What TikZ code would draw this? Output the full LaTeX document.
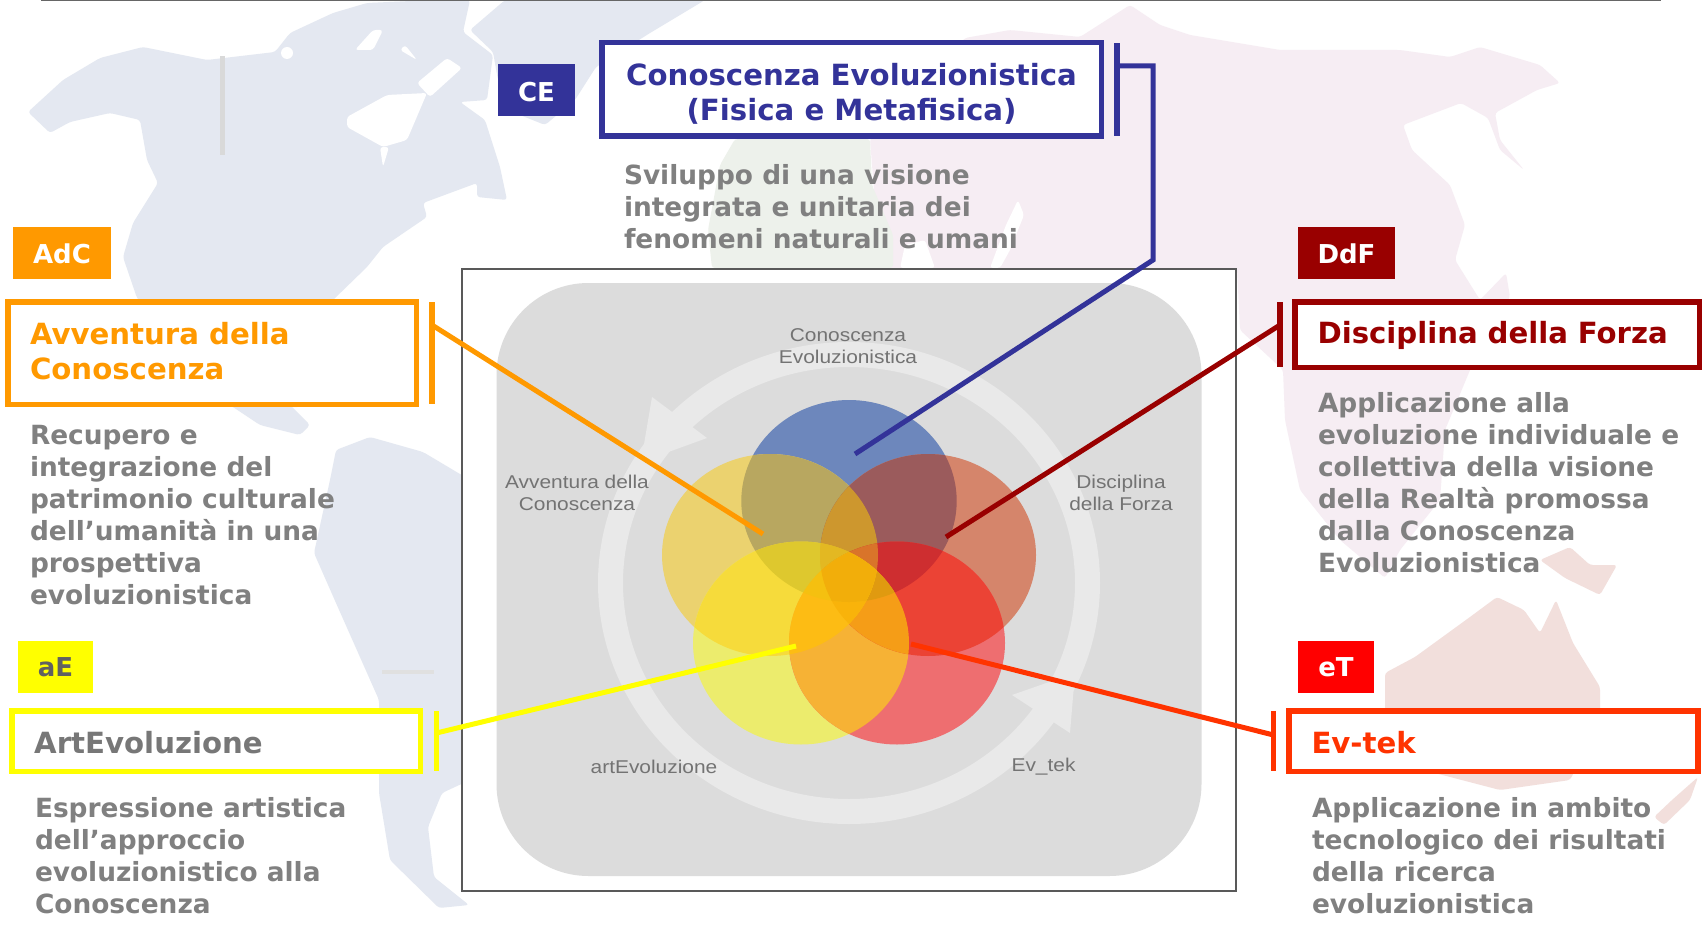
\documentclass[tikz,border=0pt]{standalone}
\usepackage{fontspec}
\setmainfont{DejaVu Sans}
\newfontfamily\lblfont[FakeStretch=1.13]{Liberation Sans}
\definecolor{ceblue}{HTML}{333399}
\definecolor{adcor}{HTML}{FF9900}
\definecolor{ddfred}{HTML}{990000}
\definecolor{aeyel}{HTML}{FFFF00}
\definecolor{etred}{HTML}{FF3300}
\definecolor{txtgray}{HTML}{808080}
\definecolor{titgray}{HTML}{777777}
\definecolor{mapblue}{HTML}{E4E8F1}
\definecolor{mapgreen}{HTML}{EDF1EB}
\definecolor{mappink}{HTML}{F6EDF3}
\definecolor{maprose}{HTML}{F2DFDC}
\definecolor{panelgray}{HTML}{DCDCDC}
\definecolor{ringgray}{HTML}{E9E9E9}
\newcommand\eB{(849,501) ellipse [x radius=107.7,y radius=101]}
\newcommand\eO{(770,555) ellipse [x radius=108,y radius=101]}
\newcommand\eD{(928,555) ellipse [x radius=108,y radius=101]}
\newcommand\eY{(801,643) ellipse [x radius=108,y radius=101.5]}
\newcommand\eR{(897,643) ellipse [x radius=108,y radius=101.5]}
\newcommand\reg[2]{\begin{scope}#2\definecolor{tmpc}{HTML}{#1}\fill[tmpc] (650,390) rectangle (1050,760);\end{scope}}
\tikzset{
  x=1pt,y=-1pt,
  tag/.style={fill=#1,draw=none,inner sep=0pt,outer sep=0pt,font=\fontsize{26}{30}\selectfont\bfseries,text=white},
  titlebox/.style={draw=#1,line width=5.5pt,fill=white,inner ysep=0pt,outer sep=0pt,align=left,font=\fontsize{29.2}{35}\selectfont\bfseries},
  titletext/.style={inner sep=0pt,outer sep=0pt,text=#1,font=\fontsize{29.2}{35}\selectfont\bfseries},
  bar/.style={fill=#1,draw=none,inner sep=0pt,outer sep=0pt},
  desc/.style={inner sep=0pt,outer sep=0pt,anchor=north west,align=left,text=txtgray,font=\fontsize{26.4}{32}\selectfont\bfseries},
  link/.style={draw=#1,line width=5pt,line cap=butt,line join=miter},
  lbl/.style={inner sep=0pt,outer sep=0pt,align=center,text=black!55,font=\lblfont\fontsize{18.5}{22}\selectfont},
  land/.style={fill=#1,draw=none,rounded corners=3pt},
}
\begin{document}
\begin{tikzpicture}
\useasboundingbox (0,0) rectangle (1702,928);
\fill[white] (0,0) rectangle (1702,928);
% --- world map background
\path[land=mapblue] (28,112)--(63,80)--(100,58)--(143,47)--(207,60)--(275,52)--(290,33)--(333,13)--(367,3)--(433,0)--(470,0)--(463,32)--(493,55)--(487,100)--(460,102)--(485,120)--(500,167)--(507,200)--(477,197)--(477,183)--(423,203)--(427,217)--(383,247)--(367,267)--(333,300)--(300,345)--(300,407)--(230,407)--(137,298)--(123,257)--(133,223)--(158,183)--(147,160)--(140,120)--(110,113)--(70,122)--(50,133)--cycle;
\path[land=mapblue] (505,0)--(705,0)--(650,33)--(596,67)--(575,100)--(545,125)--(520,115)--(498,80)--(493,52)--(470,30)--cycle;
\path[land=mapblue] (230,405)--(260,425)--(300,435)--(310,425)--(290,405)--cycle;
\path[land=mapblue] (336,450)--(370,437)--(423,452)--(470,480)--(470,780)--(442,793)--(428,827)--(434,877)--(469,905)--(439,908)--(390,860)--(379,793)--(379,700)--(336,603)--(314,553)--(330,480)--cycle;
\path[land=white] (347,117)--(387,95)--(427,93)--(407,140)--(383,147)--(347,127)--cycle;
\path[land=white] (380,147)--(383,167)--(389,147)--cycle;
\path[land=white] (417,83)--(447,58)--(462,68)--(430,97)--cycle;
\path[land=white] (355,50)--(373,30)--(383,30)--(373,50)--cycle;
\path[land=white] (400,50)--(417,60)--(405,45)--cycle;
\fill[white] (287,53) circle (6);
\path[land=mappink] (965,38)--(1010,30)--(1080,37)--(1130,5)--(1160,25)--(1190,35)--(1280,50)--(1400,50)--(1450,57)--(1480,47)--(1540,65)--(1560,83)--(1537,90)--(1495,113)--(1500,140)--(1524,170)--(1500,150)--(1488,118)--(1461,103)--(1403,125)--(1412,150)--(1450,185)--(1465,225)--(1455,260)--(1480,300)--(1506,273)--(1510,297)--(1470,370)--(1445,430)--(1440,500)--(1400,550)--(1385,578)--(1340,540)--(1300,490)--(1285,420)--(1283,370)--(1240,330)--(1237,268)--(880,268)--(870,139)--cycle;
\path[land=mapgreen] (720,165)--(735,139)--(870,139)--(872,185)--(893,235)--(893,268)--(712,268)--(708,230)--cycle;
\path[land=white] (1018,200)--(1024,215)--(1010,250)--(1000,268)--(990,268)--(1006,225)--cycle;
\path[land=white] (900,268)--(905,245)--(925,240)--(935,268)--cycle;
\path[land=maprose] (1540,560)--(1570,547)--(1590,565)--(1617,565)--(1600,595)--(1565,578)--cycle;
\path[land=maprose] (1385,673)--(1415,657)--(1470,617)--(1497,597)--(1524,610)--(1540,633)--(1556,600)--(1573,643)--(1600,687)--(1600,720)--(1570,780)--(1500,790)--(1385,760)--cycle;
\path[land=maprose] (1654,817)--(1672,800)--(1698,777)--(1690,800)--(1664,825)--cycle;
\fill[black!15] (219.5,56) rectangle (224.5,155);
\fill[black!12] (382,670) rectangle (434,674);
% --- top rule
\coordinate (ruleL) at (41,0.5);
\coordinate (ruleR) at (1661,0.5);
\draw[draw=black!60,line width=2pt] (ruleL) -- (ruleR);
% --- central picture
\node[draw=black!65,line width=2pt,fill=white,minimum width=774pt,minimum height=622pt,inner sep=0pt,outer sep=0pt] (frame) at (848.5,579.5) {};
\node[fill=panelgray,rounded corners=92pt,minimum width=705pt,minimum height=593pt,inner sep=0pt,outer sep=0pt] (panel) at (849,579.5) {};
% ring with two arrowheads
\draw[draw=ringgray,line width=25pt] (849,583) ellipse [x radius=238.5,y radius=228.5];
\fill[ringgray] (652,397)--(707,438)--(641,462)--cycle;
\fill[ringgray] (1012,695)--(1070,733)--(1075,673)--cycle;
% circles and their overlaps
\definecolor{cB}{HTML}{6D87BC}\fill[cB] \eB;
\definecolor{cO}{HTML}{EBD26F}\fill[cO] \eO;
\definecolor{cD}{HTML}{D5856B}\fill[cD] \eD;
\definecolor{cY}{HTML}{ECEC6D}\fill[cY] \eY;
\definecolor{cR}{HTML}{EE6E70}\fill[cR] \eR;
\reg{B8A760}{\clip\eB;\clip\eO;}
\reg{9B5B5C}{\clip\eB;\clip\eD;}
\reg{F6DB3B}{\clip\eO;\clip\eY;}
\reg{F6B235}{\clip\eY;\clip\eR;}
\reg{EB4335}{\clip\eD;\clip\eR;}
\reg{CD972E}{\clip\eB;\clip\eO;\clip\eD;}
\reg{DEC82E}{\clip\eB;\clip\eO;\clip\eY;}
\reg{E3B822}{\clip\eB;\clip\eD;\clip\eY;}
\reg{CE2E30}{\clip\eB;\clip\eD;\clip\eR;}
\reg{F59D17}{\clip\eD;\clip\eR;\clip\eY;}
\reg{FDBC14}{\clip\eO;\clip\eY;\clip\eR;}
\reg{E3B822}{\clip\eB;\clip\eO;\clip\eD;\clip\eY;}
\reg{D9742A}{\clip\eB;\clip\eO;\clip\eD;\clip\eR;}
\reg{E09A10}{\clip\eB;\clip\eD;\clip\eR;\clip\eY;}
\reg{F9B30A}{\clip\eO;\clip\eD;\clip\eR;\clip\eY;}
\reg{F5C010}{\clip\eB;\clip\eO;\clip\eY;\clip\eR;}
\reg{F2AE0A}{\clip\eB;\clip\eO;\clip\eD;\clip\eY;\clip\eR;}
% picture labels
\node[lbl] (lce) at (848,346) {Conoscenza\\Evoluzionistica};
\node[lbl] (ladc) at (577,493) {Avventura della\\Conoscenza};
\node[lbl] (lddf) at (1121,493) {Disciplina\\della Forza};
\node[lbl] (lae) at (654,767) {artEvoluzione};
\node[lbl] (let) at (1043.5,767) {Ev\_tek};
% --- tags
\node[tag=ceblue,text height=23pt,text depth=0pt,minimum width=77pt,minimum height=52pt] (tagce) at (536.5,90) {CE};
\node[tag=adcor,text height=21pt,text depth=0pt,minimum width=98pt,minimum height=52pt] (tagadc) at (62,253) {AdC};
\node[tag=ddfred,text height=21pt,text depth=0pt,minimum width=97pt,minimum height=52pt] (tagddf) at (1346.5,253) {DdF};
\node[tag=aeyel,text=black!62,minimum width=75pt,minimum height=52pt] (tagae) at (55.5,667) {aE};
\node[tag=red,minimum width=76pt,minimum height=52pt] (taget) at (1336,667) {eT};
% --- title boxes
\node[titlebox=ceblue,minimum width=499.5pt,minimum height=93.5pt,inner xsep=0pt] (boxce) at (851.5,89.5) {};
\node[titletext=ceblue,align=center] (tce) at (851.5,93.5) {Conoscenza Evoluzionistica\\(Fisica e Metafisica)};
\node[titlebox=adcor,minimum width=408.5pt,minimum height=102.5pt,inner xsep=0pt] (boxadc) at (212,353) {};
\node[titletext=adcor,align=left,anchor=west] (tadc) at (30,351) {Avventura della\\Conoscenza};
\node[titlebox=ddfred,text=ddfred,text height=24pt,text depth=6pt,minimum width=405pt,minimum height=65.5pt,text width=360pt,inner xsep=22.5pt] (boxddf) at (1497.5,334.5) {Disciplina della Forza};
\node[titlebox=aeyel,text=titgray,text height=24pt,text depth=0pt,minimum width=408.5pt,minimum height=60.5pt,text width=363.5pt,inner xsep=22.5pt] (boxae) at (216,741) {ArtEvoluzione};
\node[titlebox=etred,text=etred,text height=24pt,text depth=0pt,minimum width=409pt,minimum height=60.5pt,text width=364pt,inner xsep=22.5pt] (boxet) at (1493.5,741) {Ev-tek};
% --- bars
\node[bar=ceblue,minimum width=6pt,minimum height=93pt] (barce) at (1117,89.5) {};
\node[bar=adcor,minimum width=6pt,minimum height=102pt] (baradc) at (432,353) {};
\node[bar=ddfred,minimum width=6pt,minimum height=65pt] (barddf) at (1280,334.5) {};
\node[bar=aeyel,minimum width=5pt,minimum height=60pt] (barae) at (436.5,741) {};
\node[bar=etred,minimum width=5pt,minimum height=60pt] (baret) at (1273.5,741) {};
% --- descriptions
\node[desc] (dce) at (624,164.5) {Sviluppo di una visione\\integrata e unitaria dei\\fenomeni naturali e umani};
\node[desc] (dadc) at (30,425.5) {Recupero e\\integrazione del\\patrimonio culturale\\dell’umanità in una\\prospettiva\\evoluzionistica};
\node[desc] (dddf) at (1318,392) {Applicazione alla\\evoluzione individuale e\\collettiva della visione\\della Realtà promossa\\dalla Conoscenza\\Evoluzionistica};
\node[desc] (dae) at (35,797.5) {Espressione artistica\\dell’approccio\\evoluzionistico alla\\Conoscenza};
\node[desc] (det) at (1312,797.5) {Applicazione in ambito\\tecnologico dei risultati\\della ricerca\\evoluzionistica};
% --- connectors
\coordinate (ceA) at (1153,66);
\coordinate (ceB) at (1153,260);
\coordinate (ceEnd) at (855,454);
\draw[link=ceblue] (barce.center |- ceA) -- (ceA) -- (ceB) -- (ceEnd);
\coordinate (adcEnd) at (763,534);
\draw[link=adcor] (baradc.center |- 0,325) -- (adcEnd);
\coordinate (ddfEnd) at (946,537);
\draw[link=ddfred] (barddf.center |- 0,325) -- (ddfEnd);
\coordinate (aeEnd) at (796,646);
\draw[link=aeyel] (barae.center |- 0,733) -- (aeEnd);
\coordinate (etEnd) at (911,644);
\draw[link=etred] (baret.center |- 0,735) -- (etEnd);
\end{tikzpicture}
\end{document}
